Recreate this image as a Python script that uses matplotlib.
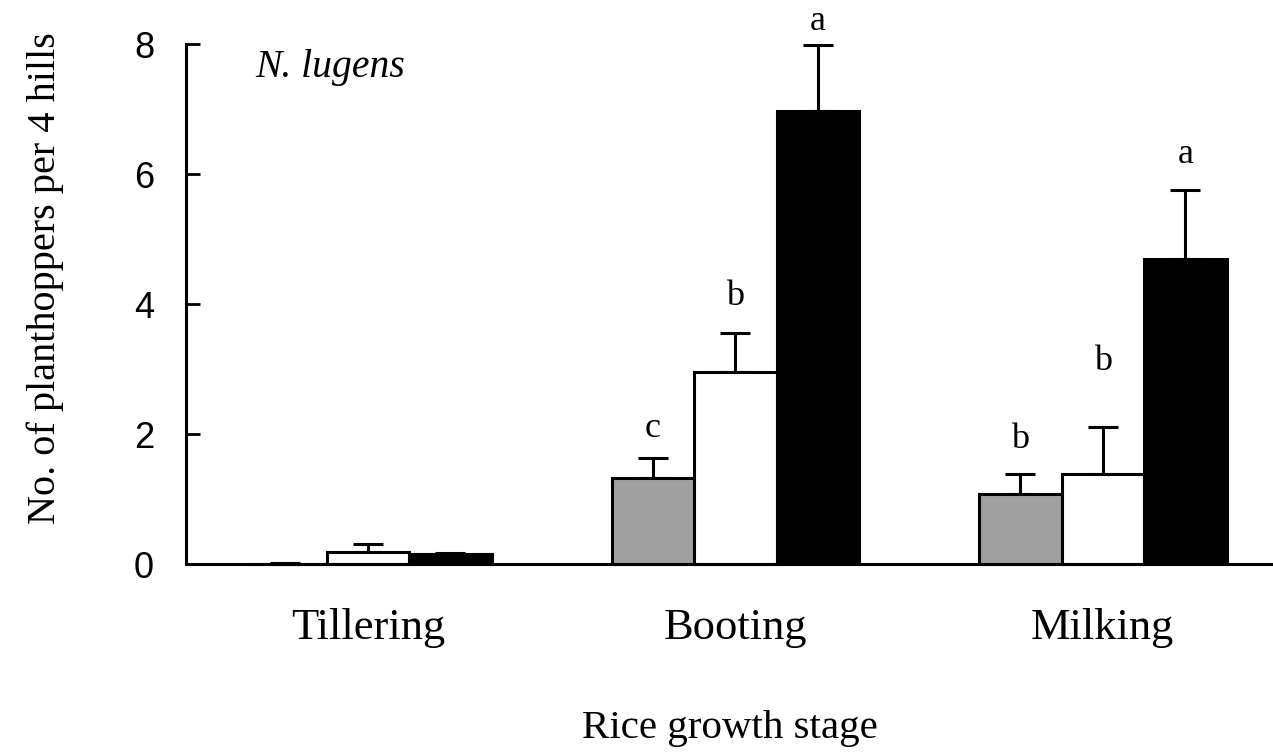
import numpy as np
import matplotlib
matplotlib.use("Agg")
import matplotlib.pyplot as plt

# ---- data ----
stages = ["Tillering", "Booting", "Milking"]
series_names = ["gray", "white", "black"]
gray_mean = [0.00, 1.32, 1.08]
gray_err = [0.02, 0.31, 0.30]
white_mean = [0.19, 2.95, 1.38]
white_err = [0.12, 0.60, 0.73]
black_mean = [0.15, 6.97, 4.70]
black_err = [0.02, 1.01, 1.06]
# significance letters (None = no letter) and their baseline heights (data units)
gray_letters = [None, "c", "b"]
white_letters = [None, "b", "b"]
black_letters = [None, "a", "a"]
gray_letter_y = [None, 1.95, 1.78]
white_letter_y = [None, 3.98, 2.98]
black_letter_y = [None, 8.22, 6.17]
yticks = [0, 2, 4, 6, 8]

serif = ["Liberation Serif", "DejaVu Serif"]
sans = ["Liberation Sans", "DejaVu Sans"]

fig = plt.figure(figsize=(12.73, 7.52), dpi=100)
ax = fig.add_axes([186 / 1273, (752 - 564) / 752, (1273 - 186) / 1273, 520 / 752])

x = np.arange(len(stages))
w = 0.2245
offsets = [-w, 0, w]
colors = ["#a0a0a0", "white", "black"]
means = [gray_mean, white_mean, black_mean]
errs = [gray_err, white_err, black_err]
letters = [gray_letters, white_letters, black_letters]
letter_ys = [gray_letter_y, white_letter_y, black_letter_y]

for off, col, m, e, lt, ly in zip(offsets, colors, means, errs, letters, letter_ys):
    ax.bar(x + off, m, width=w, color=col, edgecolor="black", linewidth=2.2,
           zorder=2, clip_on=False)
    ax.errorbar(x + off, m, yerr=[np.zeros(len(e)), e], fmt="none",
                ecolor="black", elinewidth=2.2, capsize=10.5, capthick=2.2,
                zorder=1, clip_on=False)
    for xi, l, yy in zip(x + off, lt, ly):
        if l is not None:
            ax.text(xi, yy, l, ha="center", va="baseline", fontsize=26,
                    family=serif, clip_on=False)

ax.set_xlim(-0.495, 2.463)
ax.set_ylim(0, 8)
ax.set_yticks(yticks)
ax.set_yticklabels([str(t) for t in yticks], family=sans, fontsize=26)
ax.tick_params(axis="y", direction="in", length=10, width=2, pad=23)
ax.set_xticks(x)
ax.set_xticklabels(stages, family=serif, fontsize=32)
ax.tick_params(axis="x", length=0, pad=32)

for s in ["top", "right"]:
    ax.spines[s].set_visible(False)
for s in ["left", "bottom"]:
    ax.spines[s].set_linewidth(2.2)

ax.set_xlabel("Rice growth stage", family=serif, fontsize=29.5)
ax.xaxis.set_label_coords(0.5, -0.28)
ax.set_ylabel("No. of planthoppers per 4 hills", family=serif, fontsize=29)
ax.yaxis.set_label_coords(-0.112, 0.55)

ax.text(0.0635, 0.9365, "N. lugens", transform=ax.transAxes, style="italic",
        family=serif, fontsize=28.5, va="baseline", ha="left")

fig.savefig("out.png", dpi=100)
